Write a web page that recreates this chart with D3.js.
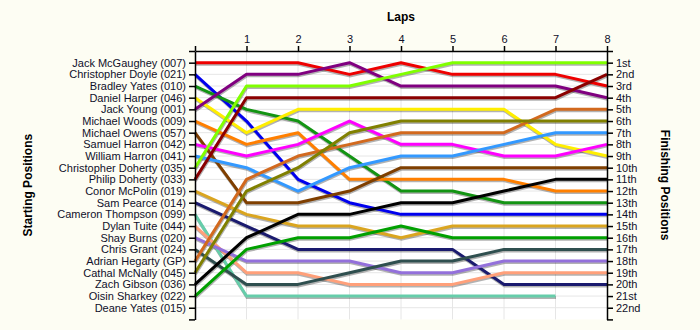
<!DOCTYPE html>
<html>
<head>
<meta charset="utf-8">
<script src="https://cdn.jsdelivr.net/npm/d3@7"></script>
<style>
  body { margin: 0; background: #fdfdf3; }
  svg text { font-family: "Liberation Sans", Arial, sans-serif; }
</style>
</head>
<body>
<svg id="chart"></svg>
<script>
// Riders in starting order (row 1 = pole)
let riders = ['Jack McGaughey (007)', 'Christopher Doyle (021)', 'Bradley Yates (010)', 'Daniel Harper (046)',
  'Jack Young (001)', 'Michael Woods (009)', 'Michael Owens (057)', 'Samuel Harron (042)', 'William Harron (041)',
  'Christopher Doherty (035)', 'Philip Doherty (033)', 'Conor McPolin (019)', 'Sam Pearce (014)',
  'Cameron Thompson (099)', 'Dylan Tuite (044)', 'Shay Burns (020)', 'Chris Grant (024)', 'Adrian Hegarty (GP)',
  'Cathal McNally (045)', 'Zach Gibson (036)', 'Oisin Sharkey (022)', 'Deane Yates (015)'];

let lineColors = ['#ee0000', '#0000ee', '#139413', '#ffee00', '#800080', '#ff7f00', '#7f3f00', '#ff00ff', '#3399ff',
  '#80ff00', '#8b0000', '#daa520', '#1a1a6e', '#66cdaa', '#ffa07a', '#9370db', '#2f4f4f', '#d2691e',
  '#808000', '#000000', '#00a000', null];

let laps = [0, 1, 2, 3, 4, 5, 6, 7, 8];

// position of each rider at the end of laps 0..8 (null = not running)
let positions = [
  [1, 1, 1, 2, 1, 2, 2, 2, 3],
  [2, 6, 11, 13, 14, 14, 14, 14, 14],
  [3, 5, 6, 9, 12, 12, 13, 13, 13],
  [4, 7, 5, 5, 5, 5, 5, 8, 9],
  [5, 2, 2, 1, 3, 3, 3, 3, 4],
  [6, 8, 7, 11, 11, 11, 11, 12, 12],
  [7, 13, 13, 12, 10, 10, 10, 10, 10],
  [8, 9, 8, 6, 8, 8, 9, 9, 8],
  [9, 10, 12, 10, 9, 9, 8, 7, 7],
  [10, 3, 3, 3, 2, 1, 1, 1, 1],
  [11, 4, 4, 4, 4, 4, 4, 4, 2],
  [12, 14, 15, 15, 16, 15, 15, 15, 15],
  [13, 15, 17, 17, 17, 17, 20, 20, 20],
  [14, 21, 21, 21, 21, 21, 21, 21, null],
  [15, 19, 19, 20, 20, 20, 19, 19, 19],
  [16, 18, 18, 18, 19, 19, 18, 18, 18],
  [17, 20, 20, 19, 18, 18, 17, 17, 17],
  [18, 11, 9, 8, 7, 7, 7, 5, 5],
  [19, 12, 10, 7, 6, 6, 6, 6, 6],
  [20, 16, 14, 14, 13, 13, 12, 11, 11],
  [21, 17, 16, 16, 15, 16, 16, 16, 16],
  [null, null, null, null, null, null, null, null, null]
];

let finishLabels = ['1st', '2nd', '3rd', '4th', '5th', '6th', '7th', '8th', '9th', '10th', '11th', '12th',
  '13th', '14th', '15th', '16th', '17th', '18th', '19th', '20th', '21st', '22nd'];

let width = 700;
let height = 330;
let plotLeft = 195, plotRight = 607, plotTop = 51, plotBottom = 319.4;

let svg = d3.select('#chart').attr('width', width).attr('height', height);

let xScale = d3.scaleLinear().domain([0, 8]).range([plotLeft, plotRight]);
let yScale = d3.scaleLinear().domain([0, 23]).range([plotTop, plotBottom]);
let rows = d3.range(0, 24);

// white plot area
svg.append('rect').attr('x', plotLeft).attr('y', plotTop).attr('width', plotRight - plotLeft)
  .attr('height', plotBottom - plotTop).attr('fill', '#fff');

// grid lines
svg.append('g').selectAll('line').data(rows.slice(1, 23)).enter().append('line')
  .attr('x1', plotLeft).attr('x2', plotRight).attr('y1', (d) => yScale(d)).attr('y2', (d) => yScale(d))
  .attr('stroke', '#e6e6e6').attr('stroke-width', 1);
svg.append('g').selectAll('line').data(laps.slice(1, 8)).enter().append('line')
  .attr('x1', (d) => xScale(d)).attr('x2', (d) => xScale(d)).attr('y1', plotTop).attr('y2', plotBottom)
  .attr('stroke', '#e6e6e6').attr('stroke-width', 1);

// the lines, with a soft shadow under each
let line = d3.line().defined((d) => d !== null).x((d, i) => xScale(laps[i])).y((d) => yScale(d));
let series = positions.map((p, i) => ({ p: p, color: lineColors[i] })).filter((d) => d.color);

svg.append('g').attr('transform', 'translate(0.5, 1.5)').selectAll('path').data(series).enter().append('path')
  .attr('d', (d) => line(d.p)).attr('fill', 'none').attr('stroke', '#000').attr('stroke-opacity', 0.3)
  .attr('stroke-width', 3);
svg.append('g').selectAll('path').data(series).enter().append('path')
  .attr('d', (d) => line(d.p)).attr('fill', 'none').attr('stroke', (d) => d.color)
  .attr('stroke-width', 3).attr('stroke-linejoin', 'round');

// axes
let topAxis = d3.axisTop(xScale).tickValues(laps).tickSize(5).tickSizeOuter(0).tickFormat((d) => d === 0 ? '' : d);
let leftAxis = d3.axisLeft(yScale).tickValues(rows).tickSize(6).tickSizeOuter(0)
  .tickFormat((d) => (d >= 1 && d <= 22) ? riders[d - 1] : '');
let rightAxis = d3.axisRight(yScale).tickValues(rows).tickSize(6).tickSizeOuter(0)
  .tickFormat((d) => (d >= 1 && d <= 22) ? finishLabels[d - 1] : '');

svg.append('g').attr('transform', 'translate(0,' + plotTop + ')').call(topAxis);
svg.append('g').attr('transform', 'translate(' + plotLeft + ',0)').call(leftAxis);
svg.append('g').attr('transform', 'translate(' + plotRight + ',0)').call(rightAxis);

svg.selectAll('.tick text').attr('font-size', 11).attr('fill', '#10102a').style('font-family', '"Liberation Sans", Arial, sans-serif');
svg.selectAll('.domain, .tick line').attr('stroke', '#000').attr('stroke-width', 1.5);

// titles
svg.append('text').attr('x', (plotLeft + plotRight) / 2).attr('y', 21).attr('text-anchor', 'middle')
  .attr('font-size', 12).attr('font-weight', 'bold').text('Laps');
svg.append('text').attr('transform', 'translate(32,' + (plotTop + plotBottom) / 2 + ') rotate(-90)').attr('text-anchor', 'middle')
  .attr('font-size', 12).attr('font-weight', 'bold').text('Starting Positions');
svg.append('text').attr('transform', 'translate(661,' + (plotTop + plotBottom) / 2 + ') rotate(90)').attr('text-anchor', 'middle')
  .attr('font-size', 12).attr('font-weight', 'bold').text('Finishing Positions');
</script>
</body>
</html>
